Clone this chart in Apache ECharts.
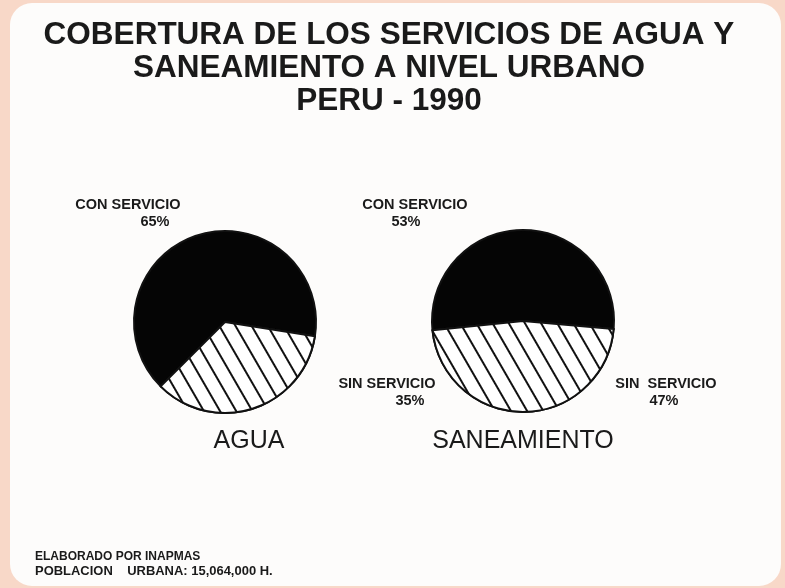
<!DOCTYPE html>
<html><head><meta charset="utf-8">
<script src="https://cdn.jsdelivr.net/npm/echarts@6/dist/echarts.min.js"></script>
<style>html,body{margin:0;padding:0;background:#f8d8c8;}#c{width:785px;height:588px;}</style>
</head><body><div id="c"></div>
<script>
const titleLines = ['COBERTURA DE LOS SERVICIOS DE AGUA Y', 'SANEAMIENTO A NIVEL URBANO', 'PERU - 1990'];
const pieNames = ['AGUA', 'SANEAMIENTO'];
const categories = ['CON SERVICIO', 'SIN SERVICIO'];
const conServicio = [65, 53];
const sinServicio = [35, 47];
const footerLines = ['ELABORADO POR INAPMAS', 'POBLACION    URBANA: 15,064,000 H.'];

const chart = echarts.init(document.getElementById('c'), null, {renderer: 'canvas'});
const centers = [[225, 322], [523, 321]];
const startAngles = [-9, -5];
const hatch = {symbol: 'rect', symbolSize: 1, dashArrayX: [1, 0], dashArrayY: [1.8, 11.2], rotation: Math.PI / 3, color: '#111', backgroundColor: '#fff'};

const series = pieNames.map((n, i) => ({
  type: 'pie', name: n, center: centers[i], radius: 91, clockwise: false, startAngle: startAngles[i],
  silent: true, label: {show: false}, labelLine: {show: false},
  itemStyle: {borderColor: '#111', borderWidth: 2},
  data: [
    {name: categories[0], value: conServicio[i], itemStyle: {color: '#050505'}},
    {name: categories[1], value: sinServicio[i], itemStyle: {color: '#fff', decal: hatch}}
  ]
}));

const txt = (x, y, text, font, align, extra) => Object.assign({type: 'text', x: x, y: y, style: {text: text, font: font, fill: '#1a1a1a', align: align || 'center', verticalAlign: 'middle'}}, extra || {});
const lblFont = 'bold 14.5px "Liberation Sans", Arial, sans-serif';
const titleFont = 'bold 31.5px "Liberation Sans", Arial, sans-serif';
const footFont = 'bold 12px "Liberation Sans", Arial, sans-serif';
const graphics = [
  {type: 'rect', shape: {x: 10, y: 3, width: 771, height: 583, r: 22}, style: {fill: '#fdfcfb'}, z: -10},
  txt(389, 35, titleLines[0], titleFont),
  txt(389, 68, titleLines[1], titleFont),
  txt(389, 101, titleLines[2], titleFont),
  txt(128, 205, categories[0], lblFont), txt(155, 222, conServicio[0] + '%', lblFont),
  txt(415, 205, categories[0], lblFont), txt(406, 222, conServicio[1] + '%', lblFont),
  txt(387, 384, categories[1], lblFont), txt(410, 401, sinServicio[0] + '%', lblFont),
  txt(666, 384, categories[1].replace(' ', '  '), lblFont), txt(664, 401, sinServicio[1] + '%', lblFont),
  txt(249, 441, pieNames[0], '25px "Liberation Sans", Arial, sans-serif'),
  txt(523, 441, pieNames[1], '25px "Liberation Sans", Arial, sans-serif'),
  txt(35, 557, footerLines[0], footFont, 'left'),
  txt(35, 572, footerLines[1], footFont, 'left', {scaleX: 1.08})
];

chart.setOption({animation: false, backgroundColor: 'transparent', series: series, graphic: {elements: graphics}});
</script></body></html>
